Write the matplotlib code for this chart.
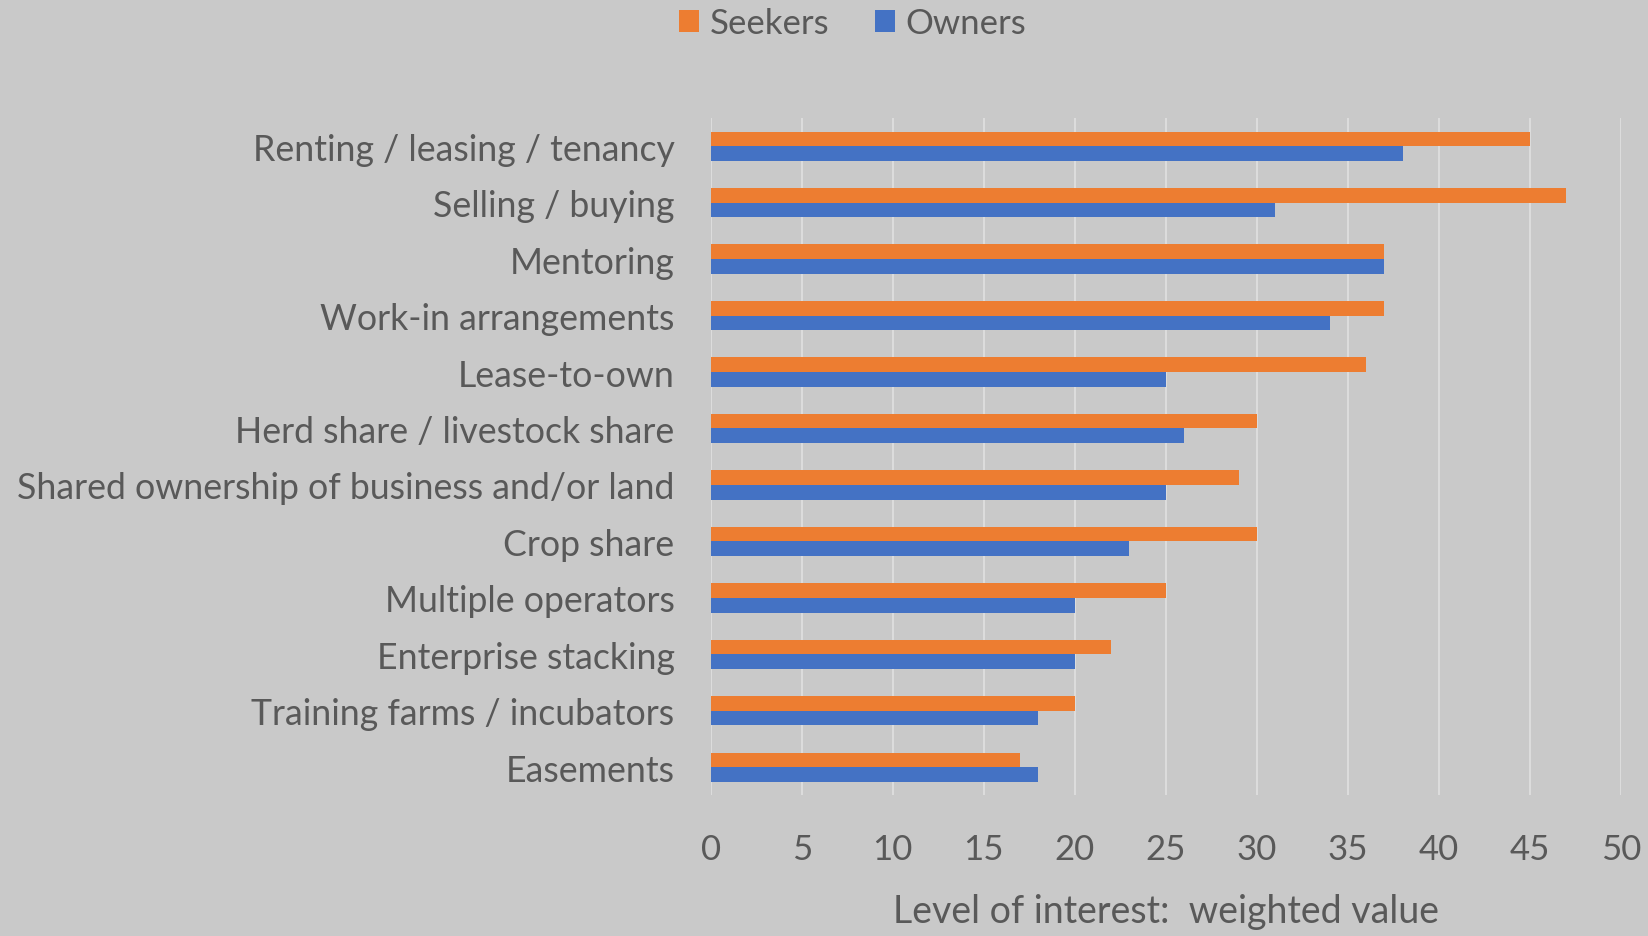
import matplotlib.pyplot as plt
import numpy as np

categories = [
    "Renting / leasing / tenancy",
    "Selling / buying",
    "Mentoring",
    "Work-in arrangements",
    "Lease-to-own",
    "Herd share / livestock share",
    "Shared ownership of business and/or land",
    "Crop share",
    "Multiple operators",
    "Enterprise stacking",
    "Training farms / incubators",
    "Easements",
]
seekers = [45, 47, 37, 37, 36, 30, 29, 30, 25, 22, 20, 17]
owners = [38, 31, 37, 34, 25, 26, 25, 23, 20, 20, 18, 18]
x_ticks = list(range(0, 55, 5))

BG = "#c9c9c9"
TEXT = "#595959"
ORANGE = "#ed7d31"
BLUE = "#4472c4"

plt.rcParams['font.family'] = ['Lato', 'DejaVu Sans']

fig = plt.figure(figsize=(16.49, 9.37), dpi=100, facecolor=BG)
ax = fig.add_axes([0.431, 0.150, 0.552, 0.723], facecolor=BG)

y = np.arange(len(categories))
h = 0.26
ax.barh(y - h / 2, seekers, height=h, color=ORANGE, label="Seekers", zorder=3)
ax.barh(y + h / 2, owners, height=h, color=BLUE, label="Owners", zorder=3)

ax.set_xlim(0, 50)
ax.set_ylim(len(categories) - 0.5, -0.5)
ax.set_xticks(x_ticks)
ax.set_yticks(y)
ax.set_yticklabels(categories, fontsize=25.7)
ax.xaxis.grid(True, color="#dcdcdc", linewidth=1.5, zorder=0)
ax.set_axisbelow(True)
for s in ax.spines.values():
    s.set_visible(False)
ax.tick_params(axis='both', length=0, labelcolor=TEXT)
ax.tick_params(axis='x', labelsize=25, pad=27)
ax.tick_params(axis='y', pad=26)
ax.set_xlabel("Level of interest:  weighted value", fontsize=27, color=TEXT, labelpad=20)

fig.legend(loc='center', bbox_to_anchor=(0.517, 0.974), ncol=2, frameon=False,
           fontsize=25, labelcolor=TEXT, handlelength=0.6, handleheight=0.6,
           handletextpad=0.3, columnspacing=1.3)

fig.savefig("out.png", dpi=100, facecolor=BG)
